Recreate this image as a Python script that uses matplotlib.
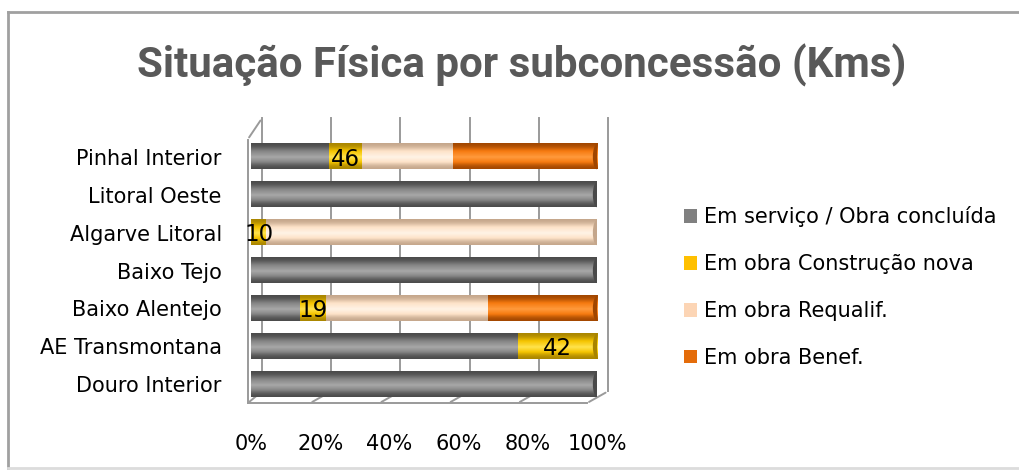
import numpy as np
import matplotlib.pyplot as plt
import matplotlib.transforms as mtransforms
from matplotlib.colors import LinearSegmentedColormap
from matplotlib.patches import Ellipse, Rectangle
from matplotlib.lines import Line2D

# ---------------- data (km) ----------------
categories = ["Douro Interior", "AE Transmontana", "Baixo Alentejo", "Baixo Tejo",
              "Algarve Litoral", "Litoral Oeste", "Pinhal Interior"]
series_names = ["Em serviço / Obra concluída", "Em obra Construção nova",
                "Em obra Requalif.", "Em obra Benef."]
em_servico = [242, 141, 37, 70, 0, 109, 109]
construcao_nova = [0, 42, 19, 0, 10, 0, 46]
requalif = [0, 0, 122, 0, 216, 0, 127]
benef = [0, 0, 82, 0, 0, 0, 202]
x_ticks = [0, 0.2, 0.4, 0.6, 0.8, 1.0]
x_tick_labels = ["0%", "20%", "40%", "60%", "80%", "100%"]

legend_colors = ["#808080", "#FFC000", "#FCD5B5", "#E46C0A"]
# (light, mid, dark) shades for the cylinder look
shades = [("#a8a8a8", "#858585", "#4a4a4a"),
          ("#ffe34d", "#f5c400", "#a88400"),
          ("#fff3e6", "#fde2c8", "#c4a68b"),
          ("#ff9a3c", "#f67a10", "#a04600")]

font = ["DejaVu Sans"]
plt.rcParams["font.family"] = font
fs = 15

fig = plt.figure(figsize=(10.2, 4.72), dpi=100)

# outer frame of the chart area (left + top dark, bottom light)
fig.add_artist(Line2D([8 / 1020, 8 / 1020], [4 / 472, 460 / 472], transform=fig.transFigure,
                      color="#a0a0a0", lw=2))
fig.add_artist(Line2D([8 / 1020, 1.0], [460 / 472, 460 / 472], transform=fig.transFigure,
                      color="#a0a0a0", lw=2))
fig.add_artist(Line2D([8 / 1020, 1.0], [4 / 472, 4 / 472], transform=fig.transFigure,
                      color="#dcdcdc", lw=2))

fig.text(0.511, 0.862, "Situação Física por subconcessão (Kms)", ha="center", va="center",
         fontsize=30.3, fontweight="bold", color="#595959",
         family=["Roboto", "DejaVu Sans"])

ax = fig.add_axes([251 / 1020, (472 - 403.3) / 472, 346 / 1020, 265.5 / 472])
ax.set_xlim(0, 1)
ax.set_ylim(-0.5, 6.5)
for s in ax.spines.values():
    s.set_visible(False)
ax.patch.set_visible(False)

# 3D-ish frame: back wall shifted up/right
back = mtransforms.offset_copy(ax.transData, fig=fig, x=11, y=12, units="dots")
frame_col = "#9a9a9a"
for t in x_ticks:
    ax.plot([t, t], [-0.5, 6.5 + 0.2], color=frame_col, lw=1.4, transform=back, clip_on=False, zorder=0)
# floor
ax.plot([-0.01, 0.97], [-0.5, -0.5], color=frame_col, lw=1.4, clip_on=False, zorder=0)
for t in x_ticks:
    x0 = t - 0.01 if t == 0 else t - 0.03
    ax.annotate("", xy=(t, -0.5), xycoords=back, xytext=(x0, -0.5), textcoords="data",
                arrowprops=dict(arrowstyle="-", color=frame_col, lw=1.4), zorder=0)
# left side wall
ax.plot([-0.01, -0.01], [-0.5, 6.5 - 0.05], color=frame_col, lw=1.4, clip_on=False, zorder=0)
ax.annotate("", xy=(0, 6.5 + 0.2), xycoords=back, xytext=(-0.01, 6.45), textcoords="data",
            arrowprops=dict(arrowstyle="-", color=frame_col, lw=1.4), zorder=0)

# ---------------- stacked 100% cylinders ----------------
data = np.array([em_servico, construcao_nova, requalif, benef], dtype=float)
totals = data.sum(axis=0)
frac = data / totals
bar_h = 0.66
grad = np.array([0.0, 0.3, 0.55, 0.75, 1.0]).reshape(-1, 1)
cap_w = 0.024

for i in range(len(categories)):
    left = 0.0
    last = max(k for k in range(4) if frac[k, i] > 0)
    first = min(k for k in range(4) if frac[k, i] > 0)
    for k in range(4):
        w = frac[k, i]
        if w <= 0:
            continue
        light, mid, dark = shades[k]
        cmap = LinearSegmentedColormap.from_list("c", [dark, mid, light, mid, dark])
        ax.imshow(grad, cmap=cmap, extent=[left, left + w, i - bar_h / 2, i + bar_h / 2],
                  aspect="auto", origin="lower", zorder=2, interpolation="bicubic")
        if k == last:
            ax.add_patch(Ellipse((left + w, i), cap_w, bar_h, facecolor=dark, edgecolor="none",
                                 zorder=3))
        if k == 1:
            ax.text(left + w / 2, i - 0.06, f"{int(data[k, i])}", ha="center", va="center",
                    fontsize=16.5, color="black", zorder=4)
        left += w
    # rounded left end
    ax.add_patch(Ellipse((0, i), cap_w, bar_h * 0.95, facecolor=shades[first][1],
                         edgecolor="none", zorder=1))

ax.set_xlim(0, 1)
ax.set_ylim(-0.5, 6.5)
ax.set_yticks(range(len(categories)))
ax.set_yticklabels(categories, fontsize=fs)
ax.set_xticks(x_ticks)
ax.set_xticklabels(x_tick_labels, fontsize=fs)
ax.tick_params(axis="y", length=0, pad=21)
ax.tick_params(axis="x", length=0, pad=22)

# legend
handles = [Rectangle((0, 0), 1, 1, facecolor=c, edgecolor="none") for c in legend_colors]
fig.legend(handles, series_names, loc="center left", bbox_to_anchor=(0.652, 0.392),
           frameon=False, fontsize=fs, handlelength=0.65, handleheight=0.65,
           handletextpad=0.3, labelspacing=1.29)

fig.savefig("out.png", dpi=100)
